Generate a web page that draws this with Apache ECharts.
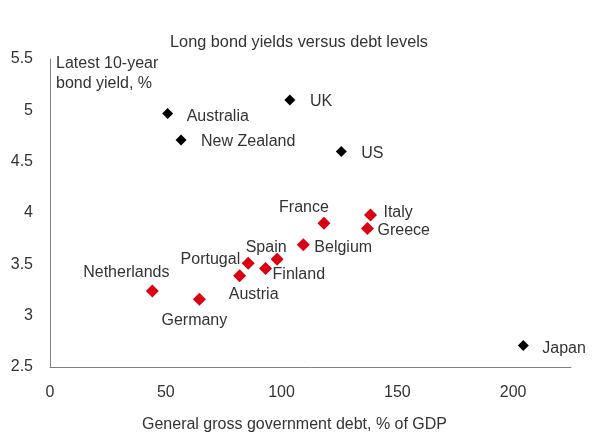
<!DOCTYPE html>
<html>
<head>
<meta charset="utf-8">
<script src="https://cdn.jsdelivr.net/npm/echarts@6/dist/echarts.min.js"></script>
<style>
  html, body { margin: 0; padding: 0; background: #fff; }
  #chart { width: 598px; height: 445px; }
</style>
</head>
<body>
<div id="chart"></div>
<script>
// data
const countries = ['Australia', 'UK', 'New Zealand', 'US', 'Japan',
  'France', 'Italy', 'Greece', 'Belgium', 'Spain', 'Portugal', 'Finland', 'Austria', 'Netherlands', 'Germany'];
const debt = [50.8, 103.6, 56.6, 125.8, 204.4,
  118.3, 138.4, 137.1, 109.4, 98.1, 85.6, 93.1, 81.9, 44.2, 64.5];
const yields = [4.97, 5.10, 4.71, 4.60, 2.71,
  3.90, 3.98, 3.85, 3.69, 3.55, 3.51, 3.46, 3.39, 3.24, 3.16];
const euro = [false, false, false, false, false,
  true, true, true, true, true, true, true, true, true, true];

const xTicks = [0, 50, 100, 150, 200];
const yTicks = [2.5, 3, 3.5, 4, 4.5, 5, 5.5];

// where each label sits relative to its marker: [align, dx, dy]
const labelPlace = {
  'Australia': ['left', 19, 3],
  'UK': ['left', 20, 2],
  'New Zealand': ['left', 20, 1],
  'US': ['left', 20, 2],
  'Japan': ['left', 19, 3],
  'Italy': ['left', 13, -2],
  'Greece': ['left', 10, 2],
  'Belgium': ['left', 11, 3],
  'Finland': ['left', 7, 6],
  'Portugal': ['right', -8, -4],
  'France': ['center', -20, -16],
  'Spain': ['center', -11, -12],
  'Austria': ['center', 14, 19],
  'Netherlands': ['center', -26, -18],
  'Germany': ['center', -5, 21]
};

const font = 'Liberation Sans, Arial, sans-serif';
const textColor = '#333';

function points(isEuro) {
  const out = [];
  countries.forEach((name, i) => {
    if (euro[i] !== isEuro) return;
    const p = labelPlace[name];
    out.push({
      name: name,
      value: [debt[i], yields[i]],
      label: { align: p[0], offset: [p[1], p[2]] }
    });
  });
  return out;
}

const pointLabel = {
  show: true,
  position: 'inside',
  formatter: '{b}',
  fontSize: 16,
  color: textColor,
  fontFamily: font
};

const chart = echarts.init(document.getElementById('chart'));
chart.setOption({
  animation: false,
  textStyle: { fontFamily: font },
  title: {
    text: 'Long bond yields versus debt levels',
    left: 'center',
    top: 30,
    textStyle: { fontFamily: font, fontSize: 16.3, fontWeight: 'normal', color: textColor }
  },
  grid: { left: 50, right: 27, top: 59, bottom: 78, containLabel: false },
  xAxis: {
    type: 'value',
    min: 0,
    max: 225,
    interval: 50,
    axisLine: { show: true, lineStyle: { color: '#808080', width: 1 } },
    axisTick: { show: false },
    splitLine: { show: false },
    axisLabel: {
      margin: 18,
      fontSize: 16,
      color: textColor,
      fontFamily: font,
      showMaxLabel: false,
      formatter: v => xTicks.indexOf(v) >= 0 ? String(v) : ''
    }
  },
  yAxis: {
    type: 'value',
    min: 2.5,
    max: 5.5,
    interval: 0.5,
    axisLine: { show: true, lineStyle: { color: '#808080', width: 1 } },
    axisTick: { show: false },
    splitLine: { show: false },
    axisLabel: {
      margin: 17,
      fontSize: 16,
      padding: [4, 0, 0, 0],
      color: textColor,
      fontFamily: font,
      formatter: v => yTicks.indexOf(v) >= 0 ? String(v) : ''
    }
  },
  graphic: [
    {
      type: 'text',
      left: 56,
      top: 54,
      style: {
        text: 'Latest 10-year\nbond yield, %',
        font: '16px ' + font,
        fill: textColor,
        lineHeight: 19.5
      }
    },
    {
      type: 'text',
      left: 142,
      top: 417,
      style: {
        text: 'General gross government debt, % of GDP',
        font: '16px ' + font,
        fill: textColor
      }
    }
  ],
  series: [
    {
      name: 'Other',
      type: 'scatter',
      symbol: 'diamond',
      symbolSize: 11,
      itemStyle: { color: '#000', opacity: 1 },
      label: pointLabel,
      data: points(false)
    },
    {
      name: 'Euro area',
      type: 'scatter',
      symbol: 'diamond',
      symbolSize: 13,
      itemStyle: { color: '#db0011', opacity: 1 },
      label: pointLabel,
      data: points(true)
    }
  ]
});
</script>
</body>
</html>
